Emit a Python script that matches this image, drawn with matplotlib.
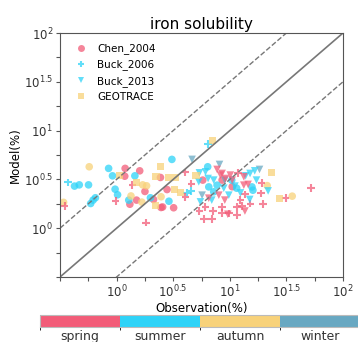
import matplotlib
matplotlib.use("Agg")
import matplotlib.pyplot as plt
import numpy as np
from matplotlib.colors import ListedColormap, BoundaryNorm
from matplotlib.lines import Line2D

seasons = ['spring', 'summer', 'autumn', 'winter']
season_colors = ['#F25C78', '#2ED3F8', '#F8D27A', '#68A8C2']

# Chen_2004 (circles)
chen_obs = [1.19, 1.60, 1.18, 2.44, 1.78, 1.50, 1.31, 2.12, 2.47, 2.79, 2.55, 3.19, 8.55, 10.5, 5.77,
            0.85, 0.92, 1.45, 0.425, 0.468, 0.565, 0.97, 1.02, 1.99, 0.65, 0.62, 0.59, 1.28, 3.08, 6.38,
            2.90, 6.52, 7.72, 7.21, 15.7, 16.0, 10.4, 11.5,
            0.573, 1.70, 1.84, 1.34, 1.67, 0.34, 2.47, 21.4, 35.6]
chen_mod = [4.10, 3.87, 3.41, 3.31, 2.38, 1.94, 1.76, 1.97, 1.63, 2.49, 1.65, 1.62, 3.11, 2.66, 3.11,
            4.10, 3.44, 3.44, 2.70, 2.78, 2.78, 2.51, 2.20, 2.05, 2.05, 1.94, 1.79, 1.94, 5.07, 4.26,
            1.89, 2.65, 2.76, 2.36, 2.65, 2.45, 3.11, 2.57,
            4.26, 2.78, 2.72, 2.14, 1.85, 1.84, 2.10, 2.73, 2.13]
chen_season = [0] * 15 + [1] * 23 + [2] * 9

# Buck_2006 (plus)
buck06_obs = [0.374, 6.43, 4.19, 4.58,
              1.38, 0.98, 0.347, 1.82, 4.06, 4.06, 4.58, 5.39, 6.10, 7.11, 8.55, 9.80, 11.6,
              11.8, 19.1, 18.9, 19.7, 31.1, 52.4, 12.4, 12.8, 13.6, 11.6, 15.2, 5.89, 6.97, 8.55]
buck06_mod = [2.94, 7.27, 2.32, 2.40,
              2.76, 1.89, 1.68, 1.14, 3.73, 2.10, 2.87, 1.50, 1.65, 1.50, 1.44, 1.42, 1.36,
              3.69, 2.92, 2.27, 1.76, 2.05, 2.59, 1.94, 1.68, 2.22, 1.65, 1.79, 1.24, 1.24, 1.65]
buck06_season = [1] * 4 + [0] * 27

# Buck_2013 (triangles)
buck13_obs = [4.64, 8.11, 18.3, 5.69, 9.03,
              5.39, 6.10, 6.43, 5.32, 16.6, 15.1, 13.8, 17.2, 21.8, 15.0, 12.4, 7.21, 8.85, 9.80,
              6.93, 11.1, 5.50,
              7.72, 8.55, 9.16, 10.5, 13.3, 10.1, 8.27, 13.3, 14.5, 13.6, 9.60, 8.0, 6.52, 9.03]
buck13_mod = [5.07, 4.50, 4.00, 2.18, 3.11,
              3.69, 3.78, 3.23, 2.99, 3.87, 3.64, 3.44, 3.11, 2.41, 1.97, 2.30, 3.11, 2.57, 2.18,
              1.94, 2.70, 1.86,
              4.00, 3.64, 3.23, 3.11, 3.36, 3.50, 3.50, 2.76, 2.81, 1.50, 1.39, 2.18, 2.03, 1.94]
buck13_season = [3] * 5 + [1] * 17 + [0] * 14

# GEOTRACE (squares)
geo_obs = [1.06, 1.49, 2.23, 2.21, 7.08, 2.44, 5.03, 2.88, 3.31, 3.24, 3.66, 23.3, 27.4]
geo_mod = [3.44, 2.96, 3.36, 1.72, 7.86, 4.26, 3.44, 3.28, 3.28, 2.49, 2.30, 3.71, 2.02]
geo_season = [2] * 13

cmap = ListedColormap(season_colors)
norm = BoundaryNorm(np.arange(5) - 0.5, 4)

fig = plt.figure(figsize=(3.58, 3.42), dpi=100)
ax = fig.add_axes([60 / 358, 65 / 342, 283 / 358, 244 / 342])

lo, hi = 10 ** -0.5, 10 ** 2
xx = np.array([lo, hi])
ax.plot(xx, xx, color='#777777', lw=1.2)
ax.plot(xx, xx * 10 ** 0.5, color='#777777', lw=1, ls='--')
ax.plot(xx, xx * 10 ** -0.5, color='#777777', lw=1, ls='--')

kw = dict(cmap=cmap, norm=norm, alpha=0.75)
ax.scatter(chen_obs, chen_mod, c=chen_season, marker='o', s=30, edgecolors='none', **kw)
ax.scatter(buck06_obs, buck06_mod, c=buck06_season, marker='+', s=30, linewidths=1.5, **kw)
ax.scatter(buck13_obs, buck13_mod, c=buck13_season, marker='v', s=30, edgecolors='none', **kw)
ax.scatter(geo_obs, geo_mod, c=geo_season, marker='s', s=26, edgecolors='none', **kw)

ax.set_xscale('log')
ax.set_yscale('log')
ax.set_xlim(lo, hi)
ax.set_ylim(lo, hi)

tick_exp = np.arange(-0.5, 2.01, 0.25)
ax.xaxis.set_major_locator(matplotlib.ticker.FixedLocator(10 ** tick_exp))
ax.yaxis.set_major_locator(matplotlib.ticker.FixedLocator(10 ** tick_exp))
ax.xaxis.set_minor_locator(matplotlib.ticker.NullLocator())
ax.yaxis.set_minor_locator(matplotlib.ticker.NullLocator())
labels = {0.0: r'$10^{0}$', 0.5: r'$10^{0.5}$', 1.0: r'$10^{1}$', 1.5: r'$10^{1.5}$', 2.0: r'$10^{2}$'}
tick_labels = [labels.get(round(e, 2), '') for e in tick_exp]
ax.set_xticklabels(tick_labels)
ax.set_yticklabels(tick_labels)
ax.tick_params(labelsize=8.5, length=3, pad=2, color='#555555', labelcolor='#333333')
for sp in ax.spines.values():
    sp.set_color('#555555')

ax.set_title('iron solubility', fontsize=11, pad=3)
ax.set_xlabel('Observation(%)', fontsize=8.5, labelpad=1)
ax.set_ylabel('Model(%)', fontsize=8.5, labelpad=1)

handles = [
    Line2D([], [], marker='o', ls='none', color=season_colors[0], alpha=0.75, markersize=5, markeredgewidth=0),
    Line2D([], [], marker='+', ls='none', color=season_colors[1], alpha=0.75, markersize=5, markeredgewidth=1.5),
    Line2D([], [], marker='v', ls='none', color=season_colors[1], alpha=0.75, markersize=5, markeredgewidth=0),
    Line2D([], [], marker='s', ls='none', color=season_colors[2], alpha=0.75, markersize=5, markeredgewidth=0),
]
ax.legend(handles, ['Chen_2004', 'Buck_2006', 'Buck_2013', 'GEOTRACE'], loc='upper left',
          frameon=False, fontsize=7.5, handletextpad=0.6, borderaxespad=0.6, labelspacing=0.5)

cax = fig.add_axes([40 / 358, 15 / 342, 320 / 358, 12 / 342])
sm = matplotlib.cm.ScalarMappable(cmap=cmap, norm=norm)
cb = fig.colorbar(sm, cax=cax, orientation='horizontal', ticks=range(4))
cb.set_ticklabels(seasons)
cb.ax.tick_params(labelsize=9, length=0, pad=2, labelcolor='#333333')
cb.outline.set_edgecolor('#bbbbbb')

fig.savefig('out.png', dpi=100)
